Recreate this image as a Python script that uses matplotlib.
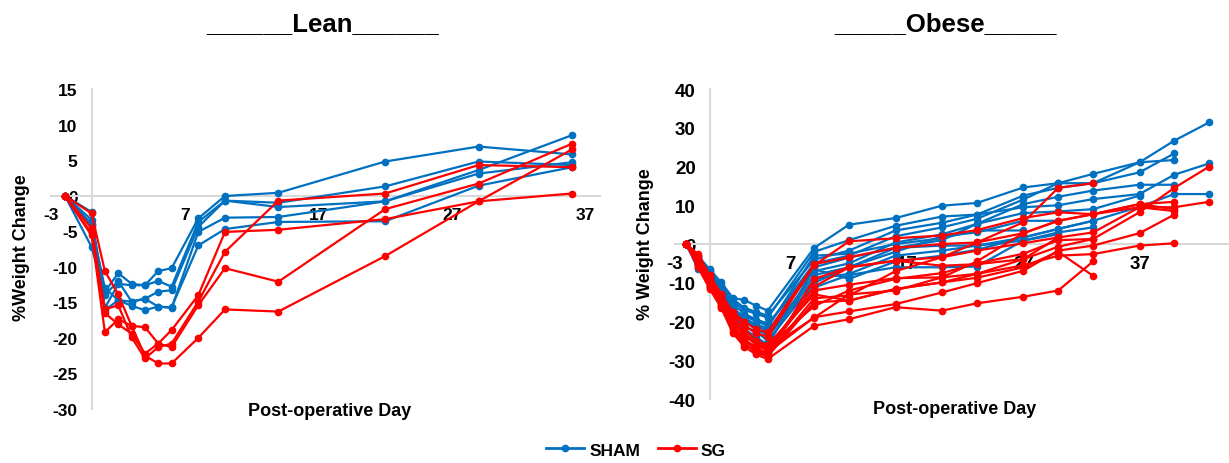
import matplotlib
matplotlib.use("Agg")
import matplotlib.pyplot as plt
from matplotlib.lines import Line2D

plt.rcParams['font.family'] = ['Liberation Sans', 'DejaVu Sans']
plt.rcParams['font.weight'] = 'bold'
plt.rcParams['axes.unicode_minus'] = False

BLUE = '#0070C0'
RED = '#FF0000'
GRID = '#d9d9d9'

# --- Lean data (% weight change per post-operative day) ---
lean_days = [-2, 0, 1, 2, 3, 4, 5, 6, 8, 10, 14, 22, 29, 36]
lean_sham = [
    [0, -4.0, -13.5, -10.9, -12.4, -12.6, -10.6, -10.2, -3.2, -0.05, 0.4, 4.8, 6.9, 5.8],
    [0, -3.4, -15.8, -12.4, -12.6, -12.6, -12.0, -12.8, -3.7, -0.7, -1.0, 1.3, 4.8, 4.3],
    [0, -2.3, -16.1, -14.7, -14.9, -14.5, -13.5, -13.3, -4.4, -0.7, -1.6, -0.8, 3.6, 8.5],
    [0, -4.1, -13.0, -14.7, -15.5, -16.1, -15.6, -15.7, -7.0, -4.7, -3.7, -3.6, 1.4, 4.0],
    [0, -7.2, -14.0, -12.0, -14.9, -14.5, -15.6, -15.8, -5.1, -3.1, -3.0, -0.8, 3.1, 4.7],
]
lean_sg = [
    [0, -5.3, -19.2, -17.4, -18.3, -22.5, -23.6, -23.6, -20.0, -16.0, -16.3, -8.5, -0.8, 6.5],
    [0, -2.5, -10.6, -13.9, -18.3, -18.5, -20.8, -18.9, -14.0, -5.1, -4.8, -3.3, -0.8, 0.3],
    [0, -4.6, -16.0, -15.4, -19.9, -22.9, -21.3, -20.8, -14.9, -7.9, -0.7, 0.3, 4.3, 4.0],
    [0, -5.6, -16.5, -18.1, -19.4, -22.2, -20.8, -21.3, -15.4, -10.2, -12.1, -1.9, 1.7, 7.3],
]

# --- Obese data ---
obese_days = [-2, -1, 0, 1, 2, 3, 4, 5, 9, 12, 16, 20, 23, 27, 30, 33, 37, 40, 43]
obese_sham = [
    [0, -3.0, -6.5, -9.9, -13.9, -14.5, -15.9, -17.2, -1.0, 5.0, 6.7, 9.9, 10.6, 14.6, 15.7, 18.1, 21.1, 26.7, 31.4],
    [0, -3.5, -7.0, -11.0, -15.0, -17.0, -18.0, -19.0, -2.0, 1.0, 4.7, 7.1, 7.6, 9.5, 10.0, 11.6, 12.9, 17.9, 20.8],
    [0, -4.0, -8.0, -12.5, -16.5, -19.5, -21.0, -22.5, -6.0, -3.5, -1.0, -0.4, -0.4, 1.7, 3.9, 6.0, 9.6, 12.9, 12.9],
    [0, -3.2, -7.5, -10.5, -14.2, -16.5, -17.5, -18.5, -4.0, -1.7, 3.5, 5.5, 7.6, 12.5, 14.5, 15.7, 18.5, 23.4],
    [0, -4.5, -8.5, -13.0, -17.0, -18.5, -20.0, -21.0, -5.0, -3.0, 2.0, 4.3, 6.5, 11.5, 15.7, 15.7, 21.1, 21.7],
    [0, -5.0, -8.0, -12.0, -15.5, -18.0, -19.5, -20.5, -7.0, -5.0, 0.4, 2.5, 5.2, 10.3, 12.2, 13.8, 15.3, 15.3],
    [0, -3.8, -7.0, -11.5, -16.0, -20.0, -22.0, -23.5, -8.0, -6.0, -1.0, 1.0, 5.2, 8.0, 8.4, 9.0, 12.5],
    [0, -5.5, -8.5, -13.5, -18.0, -21.0, -23.0, -24.0, -9.0, -7.7, -3.0, -1.7, -0.4, 0.9, 3.0, 4.3],
    [0, -6.0, -9.0, -14.0, -19.0, -21.5, -22.5, -25.0, -10.0, -6.0, -2.0, 2.0, 3.0, 6.0, 6.0],
    [0, -6.5, -8.8, -12.0, -17.5, -20.0, -21.5, -22.0, -11.2, -8.0, -6.0, -6.0, -5.8, 0.9, 2.5],
    [0, -4.2, -7.8, -11.8, -16.8, -19.0, -21.0, -21.5, -3.0, -2.5, 0.0, 1.5, 3.5, 3.5],
    [0, -5.2, -8.2, -12.8, -18.5, -22.0, -24.0, -26.0, -6.5, -9.0, -4.5, -3.0, -1.5, 1.7, 3.9, 6.0],
]
obese_sg = [
    [0, -3.0, -9.0, -13.5, -19.0, -22.0, -25.0, -26.0, -13.0, -14.6, -11.6, -9.9, -7.7, -3.9, -0.7, 1.3, 8.2, 14.5, 20.0],
    [0, -2.6, -8.0, -12.9, -17.6, -20.0, -22.0, -22.8, -5.2, -3.4, -1.0, 0.0, 0.4, 2.8, 6.0, 7.7, 9.5, 9.5, 10.9],
    [0, -3.5, -8.5, -13.0, -18.0, -21.0, -23.0, -24.0, -5.5, 0.7, 1.5, 2.2, 3.6, 6.7, 8.2, 7.7, 10.3, 10.9],
    [0, -4.0, -9.5, -14.0, -19.5, -23.0, -25.5, -27.0, -11.0, -6.0, -4.3, -3.4, -1.7, 0.2, 1.7, 3.0, 9.5, 8.5],
    [0, -4.5, -10.5, -15.5, -21.0, -24.5, -27.0, -28.0, -18.9, -17.4, -15.5, -12.5, -10.1, -6.9, -1.7, -0.4, 2.8, 7.6],
    [0, -5.0, -10.0, -14.5, -20.0, -23.5, -26.0, -27.5, -12.0, -10.5, -8.8, -8.6, -7.7, -5.5, -3.0, -2.6, -0.4, 0.2],
    [0, -3.8, -9.8, -15.0, -21.0, -25.0, -27.0, -28.5, -14.0, -13.3, -7.0, -3.4, 0.4, 5.6, 14.5, 15.7],
    [0, -5.5, -11.0, -16.0, -22.0, -25.5, -28.0, -29.0, -15.0, -14.6, -11.6, -9.9, -8.7, -6.0, -2.0, -8.2],
    [0, -6.0, -11.5, -16.5, -23.0, -26.5, -28.5, -29.7, -21.1, -19.4, -16.3, -17.2, -15.3, -13.6, -12.0, -4.5],
    [0, -4.8, -10.8, -15.8, -22.5, -26.0, -27.5, -29.0, -9.0, -6.0, -4.3, -5.6, -5.2, -3.9, 1.7],
    [0, -5.2, -11.2, -16.2, -21.5, -24.0, -25.0, -26.5, -16.0, -12.0, -9.0, -7.5, -5.0, -2.5, 1.0, 1.3],
    [0, -4.2, -10.2, -14.2, -20.5, -25.0, -26.5, -27.0, -19.0, -13.0, -12.0, -8.6, -4.5, 2.8, 6.0, 7.7, 10.3, 9.0],
]

x_ticks = [-3, 7, 17, 27, 37]


def style_axis(ax, yticks, tick_size):
    # excel-like: axes cross at zero, no box, no tick marks
    for side in ['top', 'right']:
        ax.spines[side].set_visible(False)
    ax.spines['left'].set_position(('data', 0))
    ax.spines['bottom'].set_position(('data', 0))
    for side in ['left', 'bottom']:
        ax.spines[side].set_color(GRID)
        ax.spines[side].set_linewidth(1.5)
    ax.set_xticks(x_ticks)
    ax.set_yticks(yticks)
    ax.tick_params(length=0, labelsize=tick_size)
    ax.tick_params(axis='y', pad=10)
    ax.tick_params(axis='x', pad=8)
    for lab in ax.get_xticklabels() + ax.get_yticklabels():
        lab.set_fontweight('bold')
    ax.set_facecolor('none')


def draw_group(ax, days, series, color):
    for s in series:
        ax.plot(days[:len(s)], s, color=color, lw=1.6, marker='o', ms=4.5, zorder=3)


fig = plt.figure(figsize=(12.29, 4.64), dpi=100)

ax1 = fig.add_axes([0.0419, 0.1164, 0.4463, 0.6897])
draw_group(ax1, lean_days, lean_sham, BLUE)
draw_group(ax1, lean_days, lean_sg, RED)
ax1.set_xlim(-3, 38.1)
ax1.set_ylim(-30, 15)
style_axis(ax1, list(range(-30, 16, 5)), 12.5)

ax2 = fig.add_axes([0.549, 0.1379, 0.451, 0.668])
draw_group(ax2, obese_days, obese_sham, BLUE)
draw_group(ax2, obese_days, obese_sg, RED)
ax2.set_xlim(-3, 44.7)
ax2.set_ylim(-40, 40)
style_axis(ax2, list(range(-40, 41, 10)), 13.5)

# titles written with underscores like the original slide
fig.text(323 / 1229, 1 - 24 / 464, '______Lean______', ha='center', va='center',
         fontsize=18.5, fontweight='bold')
fig.text(946 / 1229, 1 - 24 / 464, '_____Obese_____', ha='center', va='center',
         fontsize=18.5, fontweight='bold')

fig.text(330 / 1229, 1 - 412 / 464, 'Post-operative Day', ha='center', va='center',
         fontsize=13, fontweight='bold')
fig.text(955 / 1229, 1 - 410 / 464, 'Post-operative Day', ha='center', va='center',
         fontsize=13, fontweight='bold')
fig.text(22 / 1229, 1 - 248 / 464, '%Weight Change', ha='center', va='center',
         rotation=90, fontsize=13, fontweight='bold')
fig.text(646 / 1229, 1 - 244 / 464, '% Weight Change', ha='center', va='center',
         rotation=90, fontsize=13, fontweight='bold')

handles = [Line2D([], [], color=BLUE, lw=2, marker='o', ms=4.5),
           Line2D([], [], color=RED, lw=2, marker='o', ms=4.5)]
fig.legend(handles, ['SHAM', 'SG'], loc='center', bbox_to_anchor=(636 / 1229, 1 - 451 / 464),
           ncol=2, frameon=False, prop={'weight': 'bold', 'size': 12.5},
           handlelength=2.2, handletextpad=0.3, columnspacing=1.0)

fig.savefig('out.png', dpi=100)
